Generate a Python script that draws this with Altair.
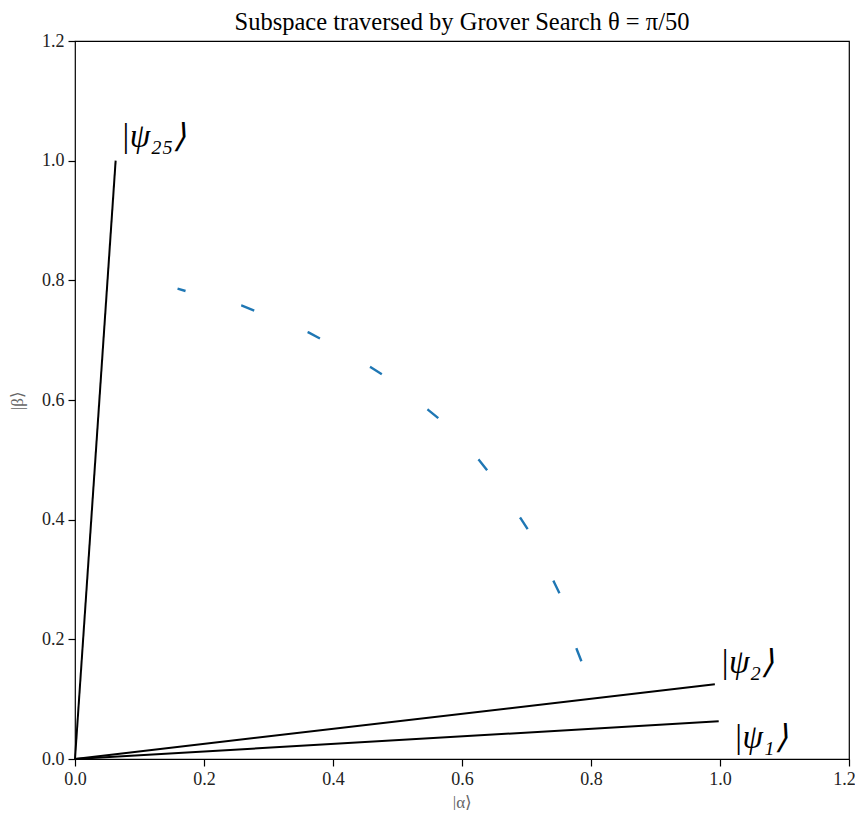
import altair as alt
import pandas as pd

# vectors from origin
vec_names = ["psi1", "psi2", "psi25"]
vec_end_x = [0.998, 0.992, 0.063]
vec_end_y = [0.063, 0.125, 1.0]

# dashed arc traversed
arc_x = [0.159, 0.172, 0.258, 0.279, 0.362, 0.381, 0.458, 0.477, 0.547, 0.565,
         0.627, 0.640, 0.691, 0.703, 0.743, 0.752, 0.778, 0.786]
arc_y = [0.786, 0.782, 0.758, 0.749, 0.713, 0.702, 0.655, 0.642, 0.584, 0.568,
         0.499, 0.481, 0.402, 0.382, 0.295, 0.275, 0.183, 0.161]

# labels
label_text = ["|ψ₁⟩", "|ψ₂⟩", "|ψ₂₅⟩"]
label_x = [1.021, 1.0, 0.071]
label_y = [0.018, 0.144, 1.023]

ticks = [0.0, 0.2, 0.4, 0.6, 0.8, 1.0, 1.2]

rows = []
for n, ex, ey in zip(vec_names, vec_end_x, vec_end_y):
    rows.append({"name": n, "order": 0, "x": 0.0, "y": 0.0})
    rows.append({"name": n, "order": 1, "x": ex, "y": ey})
vec_df = pd.DataFrame(rows)
arc_df = pd.DataFrame({"x": arc_x, "y": arc_y, "order": list(range(len(arc_x)))})
lab_df = pd.DataFrame({"text": label_text, "x": label_x, "y": label_y})

FONT = "Liberation Serif"

xscale = alt.Scale(domain=[0, 1.2], nice=False, zero=False)
yscale = alt.Scale(domain=[0, 1.2], nice=False, zero=False)

common = dict(values=ticks, format=".1f", grid=False,
              titleFont=FONT, titleFontSize=17, titleFontWeight="normal",
              titleColor="#666666",
              labelFont=FONT, labelFontSize=18, labelColor="#222222",
              labelPadding=4, tickSize=7, tickColor="black", tickWidth=1.2,
              domain=False, labelFlush=False, labelOverlap=False)
xaxis = alt.Axis(title="|α⟩", titlePadding=6,
                 labelOffset={"condition": {"test": "datum.value >= 1.19", "value": -5},
                              "value": 0},
                 **common)
yaxis = alt.Axis(title="|β⟩", titlePadding=15, **common)

vecs = alt.Chart(vec_df).mark_line(color="black", strokeWidth=2).encode(
    x=alt.X("x:Q", scale=xscale, axis=xaxis),
    y=alt.Y("y:Q", scale=yscale, axis=yaxis),
    detail="name:N",
    order="order:Q",
)

arc = alt.Chart(arc_df).mark_line(color="#1f77b4", strokeWidth=2.4,
                                  strokeDash=[14, 57.5], strokeDashOffset=5.7).encode(
    x=alt.X("x:Q", scale=xscale),
    y=alt.Y("y:Q", scale=yscale),
    order="order:Q",
)

labels = alt.Chart(lab_df).mark_text(align="left", baseline="alphabetic",
                                     font=FONT, fontSize=33, fontStyle="italic",
                                     color="black").encode(
    x=alt.X("x:Q", scale=xscale),
    y=alt.Y("y:Q", scale=yscale),
    text="text:N",
)

chart = alt.layer(vecs, arc, labels).properties(
    width=774, height=718,
    title=alt.TitleParams(text="Subspace traversed by Grover Search θ = π/50",
                          font=FONT, fontSize=24.5, fontWeight="normal",
                          color="black", baseline="top", offset=8, dy=11),
    autosize=alt.AutoSizeParams(type="none"),
    padding={"left": 67, "top": 33, "right": 6, "bottom": 51},
).configure_view(stroke="black", strokeWidth=1.2)

chart.save("out.html", embed_options={"renderer": "svg", "actions": False})
